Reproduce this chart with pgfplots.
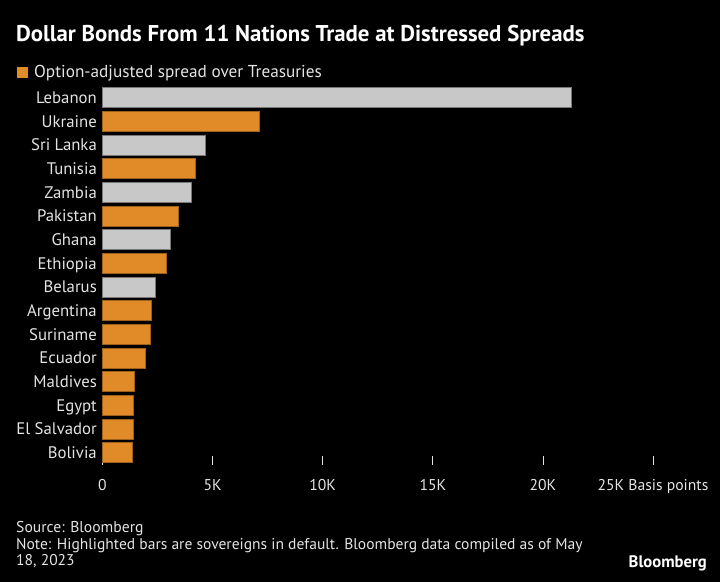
\documentclass[border=0pt]{standalone}
\usepackage{pgfplots}
\pgfplotsset{compat=1.18}
\usepackage{fontspec}
\setmainfont{PT Sans}
\definecolor{bborange}{RGB}{224,139,40}
\definecolor{bbgray}{RGB}{200,200,200}
\definecolor{txt}{RGB}{228,228,228}
\begin{document}
\begin{tikzpicture}[x=1bp,y=1bp]
\fill[black] (0,0) rectangle (720,582);
\node[anchor=base west, inner sep=0, text=white, font=\bfseries\fontsize{22.9}{26}\selectfont] at (16,582-42) {Dollar Bonds From 11 Nations Trade at Distressed Spreads};
\fill[bborange] (17,582-77.7) rectangle (28,582-67.3);
\node[anchor=base west, inner sep=0, text=txt, font=\fontsize{17.3}{20}\selectfont] at (34,582-77.3) {Option-adjusted spread over Treasuries};
\begin{axis}[
  at={(102.5bp,117.5bp)}, anchor=south west,
  scale only axis, width=550.5bp, height=378.6bp,
  xmin=0, xmax=25000, ymin=-0.5, ymax=15.5, y dir=reverse,
  xbar, bar width=20bp, bar shift=0pt,
  axis line style={draw=none},
  ytick={0,...,15},
  yticklabels={Lebanon,Ukraine,Sri Lanka,Tunisia,Zambia,Pakistan,Ghana,Ethiopia,Belarus,Argentina,Suriname,Ecuador,Maldives,Egypt,El Salvador,Bolivia},
  ytick style={draw=none},
  xtick={0,5000,10000,15000,20000,25000},
  xticklabels={0,5K,10K,15K,20K,25K Basis points},
  scaled x ticks=false,
  xtick pos=bottom, tick align=inside, major tick length=8bp,
  xtick style={draw=txt, line width=0.8bp},
  ticklabel style={text=txt},
  yticklabel style={font=\fontsize{16.8}{19}\selectfont, anchor=base east, inner sep=0pt, xshift=-5.5bp, yshift=-5.8bp},
  xticklabel style={font=\fontsize{15.7}{19}\selectfont, anchor=base, inner sep=0pt, yshift=-26bp},
  clip=false,
]
\addplot[fill=bbgray, draw=black!40!bbgray, line width=0.5bp] coordinates {
 (21280,0) (4650,2) (4010,4) (3070,6) (2400,8)};
\addplot[fill=bborange, draw=black!30!bborange, line width=0.5bp] coordinates {
 (7130,1) (4220,3) (3420,5) (2900,7) (2220,9) (2190,10) (1960,11) (1450,12) (1400,13) (1400,14) (1330,15)};
\end{axis}
\node[anchor=base west, inner sep=0, text=txt, font=\fontsize{15.7}{18}\selectfont] at (16,582-532.7) {Source: Bloomberg};
\node[anchor=base west, inner sep=0, text=txt, font=\fontsize{15.6}{18}\selectfont] at (16,582-549.5) {Note: Highlighted bars are sovereigns in default. Bloomberg data compiled as of May};
\node[anchor=base west, inner sep=0, text=txt, font=\fontsize{15.6}{18}\selectfont] at (16,582-566) {18, 2023};
\node[anchor=base east, inner sep=0, text=white, font=\bfseries\fontsize{16.7}{19}\selectfont] at (707,582-568) {Bloomberg};
\end{tikzpicture}
\end{document}
